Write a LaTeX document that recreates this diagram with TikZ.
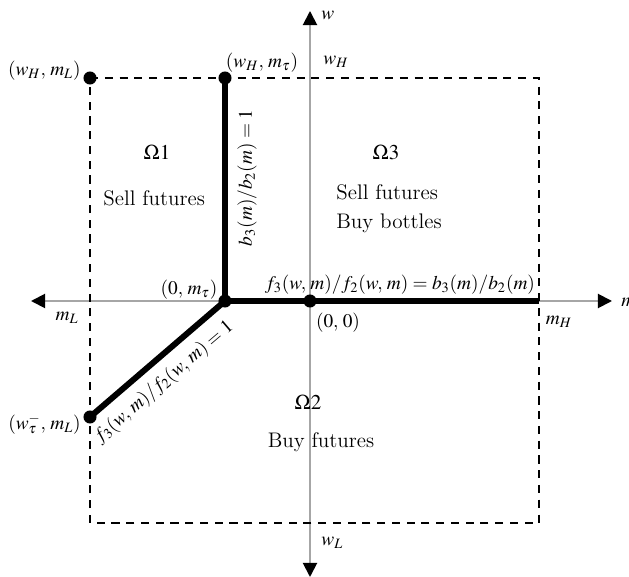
\documentclass[tikz,border=0pt,12pt]{standalone}
\usepackage{mathptmx}
\usetikzlibrary{arrows.meta, calc}

\begin{document}
\begin{tikzpicture}[x=0.02cm, y=-0.02cm, >={Triangle[length=8pt, width=8pt, color=black]}]
  \useasboundingbox (0,0) rectangle (629,577);
  \tikzset{
    axis/.style={->, line width=1.1pt, gray!70},
    bound/.style={line width=1.1pt, dash pattern=on 4.6pt off 3.8pt},
    curve/.style={line width=3.4pt, line join=round},
    dot/.style={circle, fill, inner sep=0pt, minimum size=13pt*0.57},
    lbl/.style={font=\fontsize{11}{13}\selectfont}
  }

  % axes
  \coordinate (O) at (310,301);
  \coordinate (wtop) at (310,11);
  \coordinate (wbot) at (310,577);
  \coordinate (mleft) at (31,301);
  \coordinate (mright) at (612,301);
  \draw[axis] (O) -- (wtop);
  \draw[axis] (O) -- (wbot);
  \draw[axis] (O) -- (mleft);
  \draw[axis] (O) -- (mright);

  % bounds
  \coordinate (HL) at (90,78);
  \coordinate (HH) at (539,78);
  \coordinate (LH) at (539,523);
  \coordinate (LL) at (90,523);
  \draw[bound] (HL) -- (HH) -- (LH) -- (LL) -- cycle;

  % switching curves
  \coordinate (Htau) at (225,78);
  \coordinate (J) at (225,301);
  \coordinate (Ltau) at (90,417);
  \coordinate (R) at (539,301);
  \draw[curve] (Htau) -- (J) -- (R);
  \draw[curve] (J) -- (Ltau);

  \node[dot] (dHL) at (HL) {};
  \node[dot] (dHtau) at (Htau) {};
  \node[dot] (dJ) at (J) {};
  \node[dot] (dO) at (O) {};
  \node[dot] (dLtau) at (Ltau) {};

  % points and axes labels
  \node[lbl, anchor=east] (lHL) at (88,71) {$(w_H,\, m_L)$};
  \node[lbl] (lHtau) at (262,63) {$(w_H,\, m_\tau)$};
  \node[lbl, anchor=west] (lw) at (314,15) {$w$};
  \node[lbl, anchor=west] (lwH) at (316,62) {$w_H$};
  \node[lbl, anchor=west] (lwL) at (314,543) {$w_L$};
  \node[lbl] (lmL) at (67,318) {$m_L$};
  \node[lbl] (lmH) at (559,322) {$m_H$};
  \node[lbl, anchor=west] (lm) at (614,302) {$m$};
  \node[lbl] (lJ) at (189,290) {$(0,\, m_\tau)$};
  \node[lbl] (lO) at (338,323) {$(0,\, 0)$};
  \node[lbl, anchor=east] (lLtau) at (88,424) {$(w^-_\tau,\, m_L)$};

  % curve labels
  \node[lbl, rotate=90] (lb) at (247,178) {$b_3(m)/b_2(m) = 1$};
  \node[lbl] (lf) at (400,285) {$f_3(w,\, m)/f_2(w,\, m) = b_3(m)/b_2(m)$};
  \node[lbl, rotate=40.5] (lfd) at (164,382) {$f_3(w,\, m)/f_2(w,\, m) = 1$};

  % regions
  \node (r1) at (157,152) {$\Omega 1$};
  \node[anchor=west] (r1a) at (96,198) {Sell futures};
  \node (r3) at (386,152) {$\Omega 3$};
  \node[anchor=west] (r3a) at (329,192) {Sell futures};
  \node[anchor=west] (r3b) at (329,223) {Buy bottles};
  \node (r2) at (308,402) {$\Omega 2$};
  \node (r2a) at (321,442) {Buy futures};
\end{tikzpicture}
\end{document}
